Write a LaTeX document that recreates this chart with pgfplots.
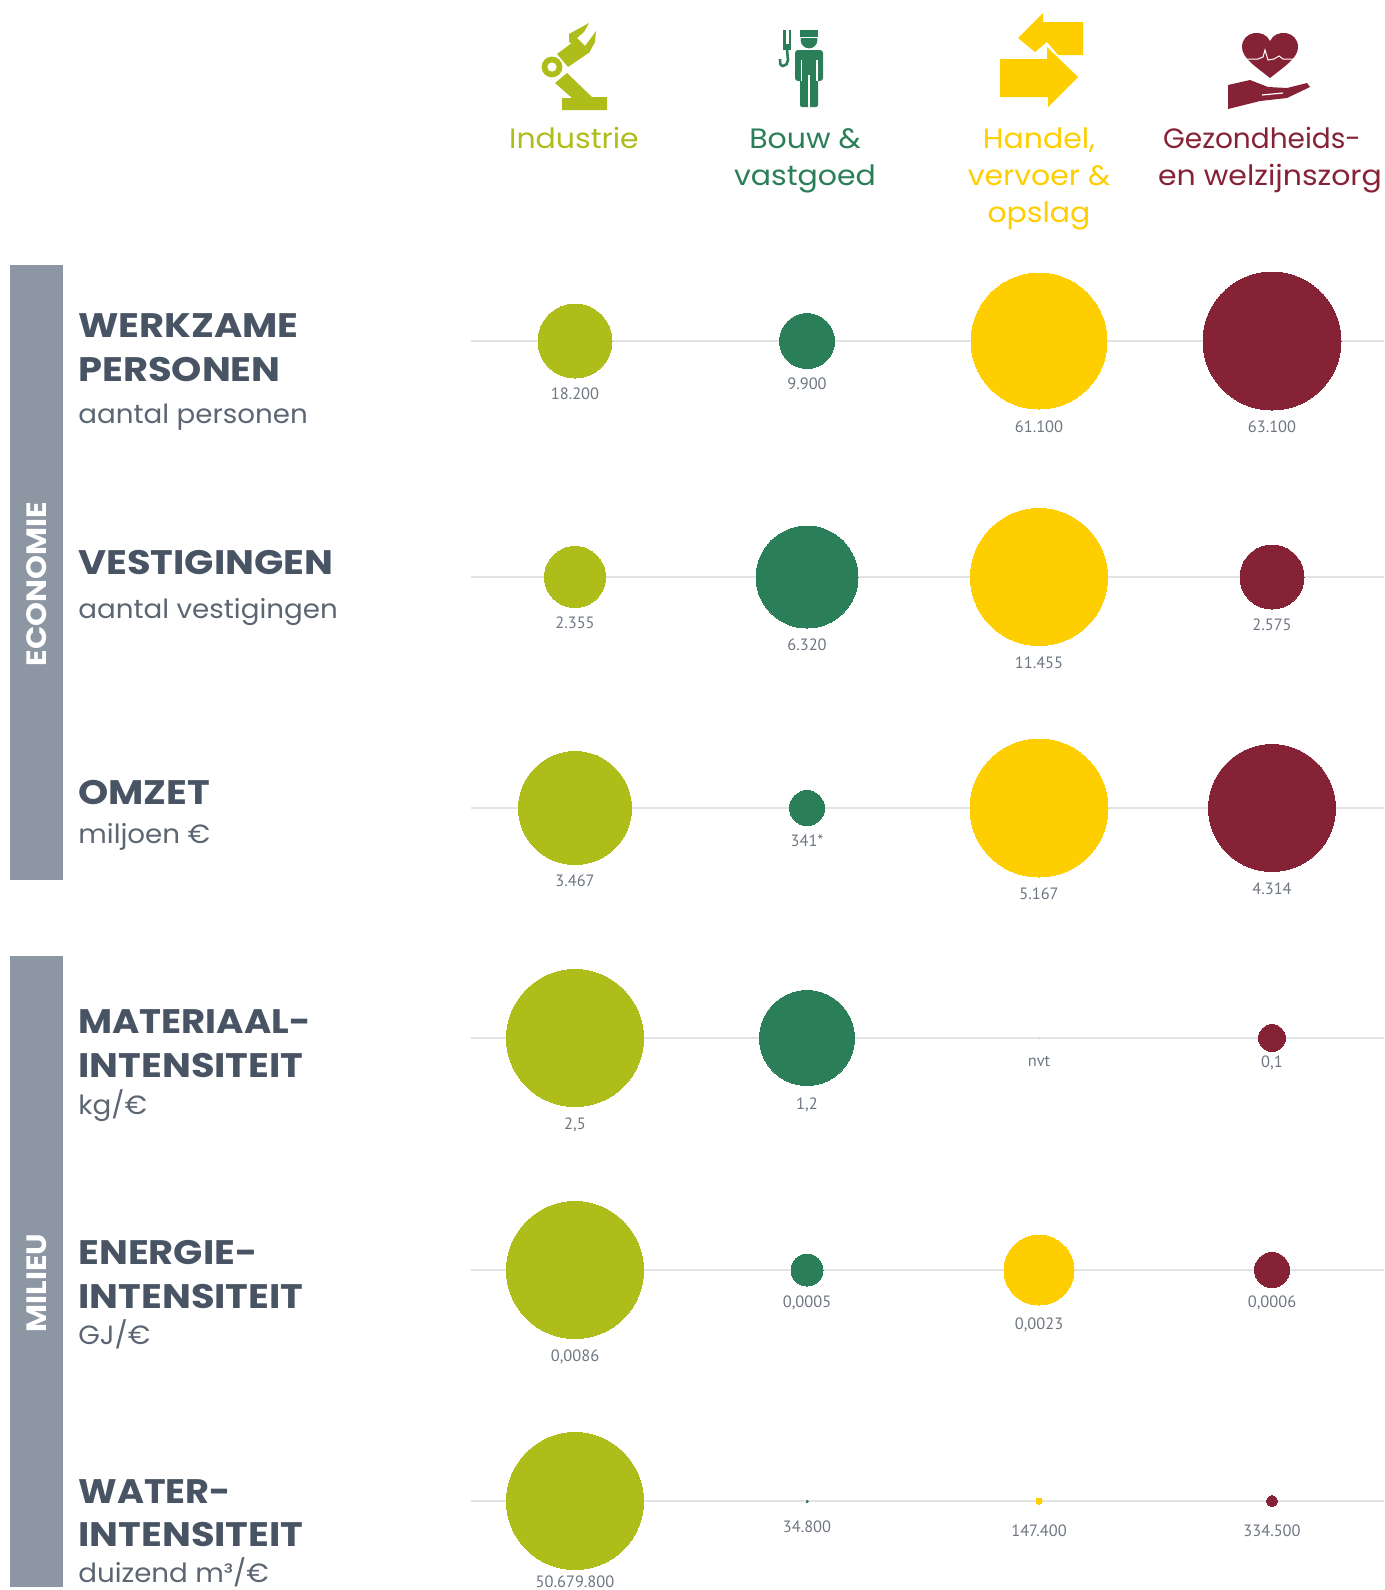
\documentclass[border=0pt]{standalone}
\usepackage{fontspec}
\setmainfont{Poppins}
\newfontfamily\valfont{PT Sans}
\usepackage{pgfplots}
\usepackage{pgfplotstable}
\pgfplotsset{compat=1.18}

\definecolor{limec}{HTML}{AFBD1B}
\definecolor{greenc}{HTML}{2A7E58}
\definecolor{yellowc}{HTML}{FFCE00}
\definecolor{maroonc}{HTML}{862236}
\definecolor{barc}{HTML}{8D97A3}
\definecolor{darkc}{HTML}{485463}
\definecolor{subc}{HTML}{5C6672}
\definecolor{valc}{HTML}{6E7681}
\definecolor{linec}{HTML}{E1E3E6}

% x, y = position in picture pixels, r = radius, ly = y of value label
\pgfplotstableread{
x y r ly label
575 341 37.5 394 18.200
575 577 31 623 2.355
575 808 57 881 3.467
575 1038 69 1125 2,5
575 1270 69 1357 0,0086
575 1501 69 1582 50.679.800
}\industrie
\pgfplotstableread{
x y r ly label
807 341 28 384 9.900
807 577 51.5 645 6.320
807 808 18 841 341*
807 1038 48 1105 1,2
807 1270 16.5 1303 0,0005
807 1501 1.5 1527 34.800
}\bouw
\pgfplotstableread{
x y r ly label
1039 341 68.5 427 61.100
1039 577 69 663 11.455
1039 808 69.5 894 5.167
1039 1038 0 1061 nvt
1039 1270 35.5 1325 0,0023
1039 1501 3.5 1531 147.400
}\handel
\pgfplotstableread{
x y r ly label
1272 341 69.5 427 63.100
1272 577 32.5 625 2.575
1272 808 64 889 4.314
1272 1038 14 1063 0,1
1272 1270 18 1303 0,0006
1272 1501 6 1531 334.500
}\zorg

\pgfplotsset{
  bubble/.style={scatter, only marks, mark=*,
    scatter src=x,
    visualization depends on={\thisrow{r}\as\rad},
    scatter/use mapped color={draw=#1, fill=#1},
    scatter/@pre marker code/.append style={/tikz/mark size={max(\rad*0.5-0.25,0)}},
    mark options={line width=0pt}},
  vals/.style={only marks, mark=none, point meta=explicit symbolic,
    nodes near coords,
    nodes near coords style={anchor=center, inner sep=0pt,
      font=\valfont\fontsize{8.2}{9}\selectfont, text=valc}},
}

% Poppins runs narrower than the reference face, hence the stretch
\newcommand{\boldx}[4]{\node[anchor=base west, inner sep=0pt, text=darkc,
  font=\bfseries\fontsize{17}{20}\selectfont] at (axis cs:#1,#2) {\scalebox{#3}[1]{#4}};}
\newcommand{\bold}[3]{\boldx{#1}{#2}{1.13}{#3}}
\newcommand{\sublab}[3]{\node[anchor=base west, inner sep=0pt, text=subc,
  font=\fontsize{13.2}{16}\selectfont] at (axis cs:#1,#2) {\scalebox{1.05}[1]{#3}};}
\newcommand{\head}[4]{\node[anchor=base, inner sep=0pt, text=#1,
  font=\fontsize{14}{16}\selectfont] at (axis cs:#2,#3) {\scalebox{1.07}[1]{#4}};}
\newcommand{\barlab}[2]{\node[rotate=90, text=white, font=\bfseries\fontsize{14}{16}\selectfont]
  at (axis cs:37,#1) {\scalebox{1.09}[1]{#2}};}

\begin{document}
\begin{tikzpicture}
\begin{axis}[
  scale only axis, width=692pt, height=795pt,
  xmin=0, xmax=1384, ymin=0, ymax=1590, y dir=reverse,
  axis lines=none, ticks=none, clip=false,
]
% keep the full page
\path (axis cs:0,0) rectangle (axis cs:1384,1590);
% side bars
\fill[barc] (axis cs:10,265) rectangle (axis cs:63,880);
\fill[barc] (axis cs:10,956) rectangle (axis cs:63,1587);
\barlab{584}{ECONOMIE}
\barlab{1283}{MILIEU}

% row lines
\addplot[linec, line width=1pt] coordinates {(471,341) (1384,341)};
\addplot[linec, line width=1pt] coordinates {(471,577) (1384,577)};
\addplot[linec, line width=1pt] coordinates {(471,808) (1384,808)};
\addplot[linec, line width=1pt] coordinates {(471,1038) (1384,1038)};
\addplot[linec, line width=1pt] coordinates {(471,1270) (1384,1270)};
\addplot[linec, line width=1pt] coordinates {(471,1501) (1384,1501)};

% bubbles and values
\addplot[bubble=limec] table[x=x,y=y] {\industrie};
\addplot[bubble=greenc] table[x=x,y=y] {\bouw};
\addplot[bubble=yellowc] table[x=x,y=y] {\handel};
\addplot[bubble=maroonc] table[x=x,y=y] {\zorg};
\addplot[vals] table[x=x,y=ly,meta=label] {\industrie};
\addplot[vals] table[x=x,y=ly,meta=label] {\bouw};
\addplot[vals] table[x=x,y=ly,meta=label] {\handel};
\addplot[vals] table[x=x,y=ly,meta=label] {\zorg};

% row labels
\bold{78}{337}{WERKZAME}
\bold{78}{381}{PERSONEN}
\sublab{78}{423}{aantal personen}
\bold{78}{574}{VESTIGINGEN}
\sublab{78}{618}{aantal vestigingen}
\bold{78}{804}{OMZET}
\sublab{78}{843}{miljoen €}
\boldx{78}{1033}{1.09}{MATERIAAL-}
\bold{78}{1077}{INTENSITEIT}
\sublab{78}{1114}{kg/€}
\bold{78}{1264}{ENERGIE-}
\bold{78}{1308}{INTENSITEIT}
\sublab{78}{1344}{GJ/€}
\boldx{78}{1503}{1.08}{WATER-}
\bold{78}{1546}{INTENSITEIT}
\sublab{78}{1582}{duizend m³/€}

% column heads
\head{limec}{574}{148}{Industrie}
\head{greenc}{805}{148}{Bouw \&}
\head{greenc}{805}{185}{vastgoed}
\head{yellowc}{1039}{148}{Handel,}
\head{yellowc}{1039}{185}{vervoer \&}
\head{yellowc}{1039}{222}{opslag}
\node[anchor=base, inner sep=0pt, text=maroonc, font=\fontsize{14}{16}\selectfont] at (axis cs:1262,148) {Gezondheids-};
\head{maroonc}{1270}{185}{en welzijnszorg}

% icon: robot arm
\fill[limec] (axis cs:555,83) -- (567,73) -- (592,97) -- (607,97) -- (607,110) -- (562,110) -- (562,98) -- (572,98) -- cycle;
\fill[limec] (axis cs:557,54) -- (573,42) -- (590,52) -- (568,67) -- cycle;
\fill[limec] (axis cs:569,42) -- (569,34) -- (578,29) -- (589,23) -- (584,32) -- (577,38) -- (585,46) -- (591,38) -- (596,31) -- (595,42) -- (589,53) -- cycle;
\fill[limec] (axis cs:552,67) circle[radius=5.2pt];
\fill[white] (axis cs:552,67) circle[radius=2.3pt];

% icon: worker with crane hook
\fill[greenc] (axis cs:809,40) circle[radius=4.2pt];
\fill[greenc] (axis cs:800,30) rectangle (axis cs:818,37);
\fill[white] (axis cs:799,37) rectangle (axis cs:819,38);
\fill[greenc, rounded corners=1.5pt] (axis cs:795,50) rectangle (axis cs:823,81);
\fill[greenc, rounded corners=1pt] (axis cs:800,70) rectangle (axis cs:818,107);
\fill[white] (axis cs:808,75) rectangle (axis cs:810,108);
\fill[white] (axis cs:800.5,60) rectangle (axis cs:802,81);
\fill[white] (axis cs:816,60) rectangle (axis cs:817.5,81);
\fill[greenc] (axis cs:783,30) rectangle (axis cs:785.5,47);
\fill[greenc] (axis cs:788.5,30) rectangle (axis cs:791,47);
\fill[greenc] (axis cs:783,44) rectangle (axis cs:791,50);
\draw[greenc, line width=1.3pt] (axis cs:787,50) -- (axis cs:788,60) to[out=-90,in=0] (axis cs:783,66) to[out=180,in=-100] (axis cs:780,59);

% icon: arrows
\fill[yellowc] (axis cs:1083,22) -- (1043,22) -- (1043,13) -- (1018,38) -- (1035,52) -- (1047,42) -- (1058,55) -- (1083,55) -- cycle;
\fill[yellowc] (axis cs:1000,59) -- (1047,59) -- (1047,47) -- (1078,77) -- (1048,107) -- (1048,97) -- (1000,97) -- cycle;

% icon: heart in hand
\fill[maroonc] (axis cs:1270,78) .. controls (axis cs:1255,66) and (axis cs:1242,58) .. (axis cs:1242,47)
  .. controls (axis cs:1242,31) and (axis cs:1264,28) .. (axis cs:1270,41)
  .. controls (axis cs:1276,28) and (axis cs:1298,31) .. (axis cs:1298,47)
  .. controls (axis cs:1298,58) and (axis cs:1285,66) .. (axis cs:1270,78) -- cycle;
\draw[white, line width=0.5pt] (axis cs:1243,59) -- (1258,59) -- (1263,57) -- (1265,50) -- (1268,60) -- (1274,59) -- (1279,56) -- (1283,59) -- (1297,59);
\fill[maroonc] (axis cs:1228,85) -- (1250,80) -- (1268,87) -- (1287,88) -- (1307,83) -- (1310,87) -- (1287,98) -- (1260,101) -- (1228,109) -- cycle;
\draw[white, line width=0.6pt] (axis cs:1262,95) -- (axis cs:1283,93);
\end{axis}
\end{tikzpicture}
\end{document}
